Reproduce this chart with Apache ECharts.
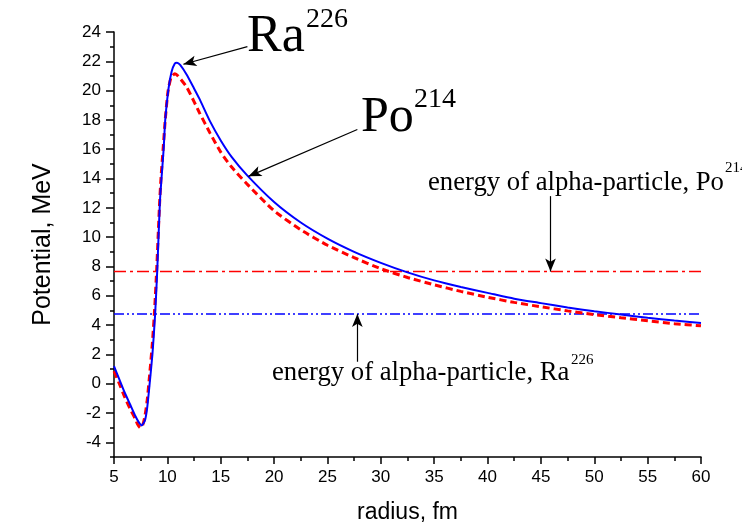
<!DOCTYPE html>
<html><head><meta charset="utf-8">
<script src="https://cdn.jsdelivr.net/npm/echarts@6/dist/echarts.min.js"></script>
<style>html,body{margin:0;padding:0;background:#fff}#c{width:742px;height:529px}</style>
</head><body><div id="c"></div>
<script>
// Ra226 potential (blue solid)
const raR = [5, 5.5, 6, 6.5, 7, 7.3, 7.6, 7.9, 8.1, 8.3, 8.6, 8.85, 9.05, 9.3, 9.45, 9.65, 9.8, 10.1, 10.4, 10.7, 10.9, 11.2, 11.8, 12.5, 13, 14, 15, 16, 17.5, 20, 22.5, 25, 27.5, 30, 32.5, 35, 37.5, 40, 42.5, 45, 47.5, 50, 52.5, 55, 57.5, 60];
const raV = [1.2, 0.3, -0.6, -1.4, -2.2, -2.6, -2.85, -2.5, -1.7, -0.3, 2.0, 4.7, 7.7, 12.4, 14.0, 16.0, 18.0, 20.1, 21.3, 21.85, 21.9, 21.75, 21.1, 20.15, 19.45, 17.9, 16.6, 15.5, 14.2, 12.4, 11.0, 9.9, 9.0, 8.25, 7.6, 7.05, 6.6, 6.2, 5.8, 5.5, 5.2, 4.95, 4.72, 4.5, 4.31, 4.15];
// Po214 potential (red dashed)
const poR = [5, 5.5, 6, 6.5, 7, 7.2, 7.45, 7.7, 7.9, 8.1, 8.3, 8.6, 8.8, 9.0, 9.25, 9.4, 9.6, 9.8, 10.05, 10.35, 10.7, 11.0, 11.8, 12.5, 13, 14, 15, 16, 17.5, 20, 22.5, 25, 27.5, 30, 32.5, 35, 37.5, 40, 42.5, 45, 47.5, 50, 52.5, 55, 57.5, 60];
const poV = [0.85, 0.0, -0.9, -1.7, -2.4, -2.75, -3.0, -2.8, -2.2, -1.2, 0.3, 2.8, 5.0, 7.8, 12.0, 14.0, 16.0, 18.0, 19.9, 20.9, 21.15, 21.0, 20.25, 19.25, 18.5, 17.1, 15.8, 14.8, 13.6, 11.8, 10.5, 9.45, 8.6, 7.85, 7.25, 6.75, 6.3, 5.9, 5.55, 5.25, 4.97, 4.72, 4.5, 4.3, 4.1, 3.95];
// alpha-particle energies (MeV)
const energyPo = 7.65;
const energyRa = 4.75;
const xRange = [5, 60];
const yMajorTicks = [-4, -2, 0, 2, 4, 6, 8, 10, 12, 14, 16, 18, 20, 22, 24];
const yMinorTicks = [-5, -3, -1, 1, 3, 5, 7, 9, 11, 13, 15, 17, 19, 21, 23];
// annotation arrows [from, to] in data coordinates
const arrowRa = [[17.5, 23.0], [11.5, 21.8]];
const arrowPo = [[27.8, 17.35], [17.6, 14.15]];
const arrowEPo = [[45.9, 12.8], [45.9, energyPo]];
const arrowERa = [[27.8, 1.5], [27.8, energyRa]];

const zip = (a, b) => a.map((v, i) => [v, b[i]]);
const sans = '"Liberation Sans", Arial, sans-serif';
const serif = '"Liberation Serif", "Times New Roman", serif';

const chart = echarts.init(document.getElementById('c'), null, {renderer: 'canvas'});
const arrowLine = (p) => [{coord: p[0], symbol: 'none'}, {coord: p[1], symbol: 'arrow', symbolSize: [8, 13]}];

chart.setOption({
  animation: false,
  backgroundColor: '#fff',
  grid: {left: 114, right: 41, top: 32, bottom: 70, containLabel: false},
  xAxis: {
    type: 'value', min: xRange[0], max: xRange[1], interval: 5,
    name: 'radius, fm', nameLocation: 'middle', nameGap: 44,
    nameTextStyle: {fontFamily: sans, fontSize: 23, color: '#000'},
    axisLine: {show: true, onZero: false, lineStyle: {color: '#000', width: 1.5}},
    axisTick: {show: true, inside: false, length: 7, lineStyle: {color: '#000', width: 1.5}},
    minorTick: {show: true, splitNumber: 2, length: 4, lineStyle: {color: '#000', width: 1.5}},
    axisLabel: {fontFamily: sans, fontSize: 17, color: '#000', margin: 12},
    splitLine: {show: false}
  },
  yAxis: [{
    type: 'value', min: -5, max: 24, interval: 1,
    name: 'Potential, MeV', nameLocation: 'middle', nameGap: 58,
    nameTextStyle: {fontFamily: sans, fontSize: 25, color: '#000'},
    axisLine: {show: true, onZero: false, lineStyle: {color: '#000', width: 1.5}},
    axisTick: {show: true, inside: false, length: 8, customValues: yMajorTicks, lineStyle: {color: '#000', width: 1.5}},
    axisLabel: {fontFamily: sans, fontSize: 17, color: '#000', margin: 13, customValues: yMajorTicks},
    splitLine: {show: false}
  }, {
    type: 'value', min: -5, max: 24, interval: 1, position: 'left', offset: 0,
    axisLine: {show: false, onZero: false},
    axisTick: {show: true, inside: false, length: 4, customValues: yMinorTicks, lineStyle: {color: '#000', width: 1.5}},
    axisLabel: {show: false},
    splitLine: {show: false}
  }],
  series: [
    {type: 'line', name: 'E Po', data: [[xRange[0], energyPo], [xRange[1], energyPo]], showSymbol: false,
     lineStyle: {color: '#ff0000', width: 1.5, type: [12, 4, 3, 4]}, z: 1},
    {type: 'line', name: 'E Ra', data: [[xRange[0], energyRa], [xRange[1], energyRa]], showSymbol: false,
     lineStyle: {color: '#0000ff', width: 1.5, type: [10, 3, 2, 3, 2, 3]}, z: 1},
    {type: 'line', name: 'Po214', data: zip(poR, poV), showSymbol: false, smooth: 0.2,
     lineStyle: {color: '#ff0000', width: 3, type: [7, 4]}, z: 2},
    {type: 'line', name: 'Ra226', data: zip(raR, raV), showSymbol: false, smooth: 0.2,
     lineStyle: {color: '#0000ff', width: 2}, z: 3},
    {type: 'line', name: 'arrows', data: [], z: 4,
     markLine: {silent: true, animation: false, label: {show: false},
       lineStyle: {color: '#000', width: 1.2, type: 'solid'}, itemStyle: {color: '#000'},
       data: [arrowLine(arrowRa), arrowLine(arrowPo), arrowLine(arrowEPo), arrowLine(arrowERa)]}}
  ],
  graphic: [
    {type: 'text', x: 247, y: 37, style: {text: 'Ra', font: '52px ' + serif, fill: '#000', verticalAlign: 'middle'}},
    {type: 'text', x: 306, y: 20, style: {text: '226', font: '28px ' + serif, fill: '#000', verticalAlign: 'middle'}},
    {type: 'text', x: 361, y: 118, style: {text: 'Po', font: '50px ' + serif, fill: '#000', verticalAlign: 'middle'}},
    {type: 'text', x: 414, y: 100, style: {text: '214', font: '28px ' + serif, fill: '#000', verticalAlign: 'middle'}},
    {type: 'text', x: 428, y: 183, style: {text: 'energy of alpha-particle, Po', font: '26.7px ' + serif, fill: '#000', verticalAlign: 'middle'}},
    {type: 'text', x: 725, y: 168, style: {text: '214', font: '15px ' + serif, fill: '#000', verticalAlign: 'middle'}},
    {type: 'text', x: 272, y: 373, style: {text: 'energy of alpha-particle, Ra', font: '26.7px ' + serif, fill: '#000', verticalAlign: 'middle'}},
    {type: 'text', x: 571, y: 360, style: {text: '226', font: '15px ' + serif, fill: '#000', verticalAlign: 'middle'}}
  ]
});
</script>
</body></html>
